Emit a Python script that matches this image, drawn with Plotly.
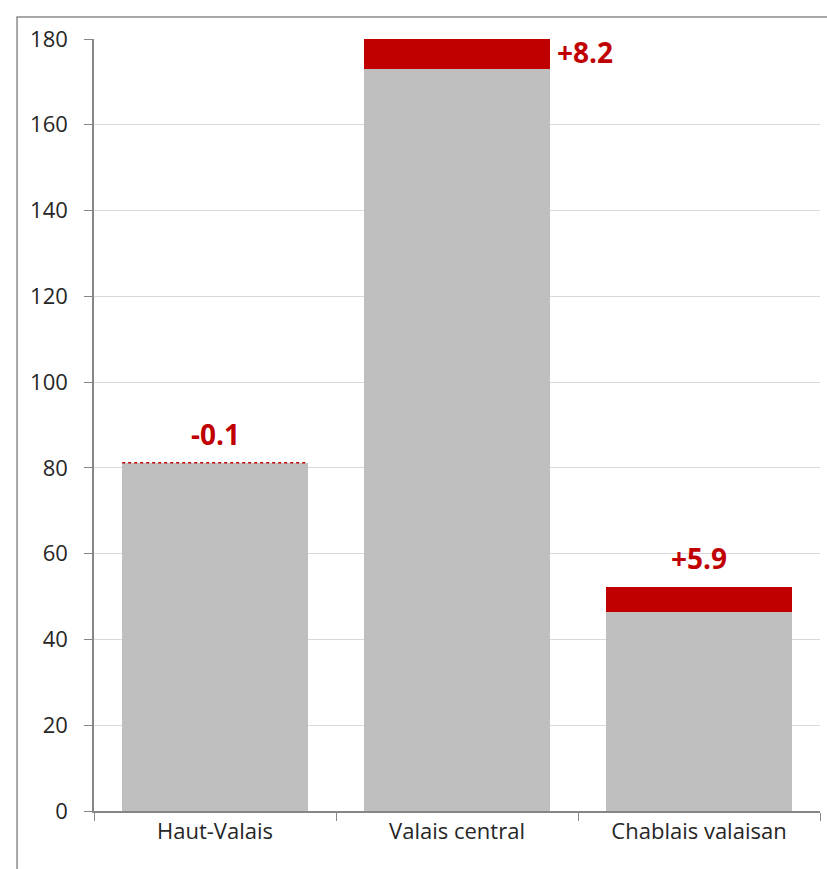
import plotly.graph_objects as go

# Regions and employment figures (thousands)
regions = ["Haut-Valais", "Valais central", "Chablais valaisan"]
previous = [81.2, 173.0, 46.3]
change = [-0.1, 8.2, 5.9]
change_labels = ["-0.1", "+8.2", "+5.9"]
y_ticks = [0, 20, 40, 60, 80, 100, 120, 140, 160, 180]

GRAY = "#BFBFBF"
RED = "#C00000"
FONT = "Open Sans"
BARGAP = 0.233

base = [p + min(c, 0) for p, c in zip(previous, change)]
gain = [max(c, 0) for c in change]
top = [p + max(c, 0) for p, c in zip(previous, change)]

fig = go.Figure()
fig.add_trace(go.Bar(x=regions, y=base, marker=dict(color=GRAY, line=dict(width=0)),
                     hoverinfo="skip"))
fig.add_trace(go.Bar(x=regions, y=gain, marker=dict(color=RED, line=dict(width=0)),
                     hoverinfo="skip"))

half = (1 - BARGAP) / 2
shapes = []
annotations = []
for i, (p, c, lab, t) in enumerate(zip(previous, change, change_labels, top)):
    if c < 0:
        # decrease drawn as a dotted outline at the former level
        shapes.append(dict(type="line", xref="x", yref="y", x0=i - half, x1=i + half,
                           y0=p, y1=p, line=dict(color=RED, width=1.5, dash="dot")))
    if t > y_ticks[-1]:
        annotations.append(dict(x=i + half, y=(p + y_ticks[-1]) / 2 + 0.5, xref="x", yref="y",
                                text=lab, showarrow=False, xanchor="left", yanchor="middle",
                                xshift=5, font=dict(family=FONT, size=28, color=RED,
                                                    weight="bold")))
    else:
        annotations.append(dict(x=i, y=max(p, t), xref="x", yref="y", text=lab,
                                showarrow=False, xanchor="center", yanchor="bottom",
                                yshift=8, font=dict(family=FONT, size=28, color=RED,
                                                    weight="bold")))

# outer chart frame
shapes.append(dict(type="rect", xref="paper", yref="paper", x0=-0.106, x1=1.02,
                   y0=-0.2, y1=1.0285, line=dict(color="#8C8C8C", width=1.5),
                   fillcolor="rgba(0,0,0,0)", layer="below"))

fig.update_layout(
    width=827, height=869,
    margin=dict(l=94, r=7, t=39, b=58),
    paper_bgcolor="white", plot_bgcolor="white",
    barmode="stack", bargap=BARGAP, showlegend=False,
    font=dict(family=FONT, size=22, color="#262626"),
    shapes=shapes, annotations=annotations,
    xaxis=dict(showline=True, linecolor="#868686", linewidth=1.5, ticks="outside",
               tickson="boundaries", ticklen=8, tickcolor="#868686",
               tickfont=dict(size=22), showgrid=False),
    yaxis=dict(range=[0, 180], tickvals=y_ticks, showline=True, linecolor="#868686",
               linewidth=1.5, ticks="outside", ticklen=8, tickcolor="#868686",
               gridcolor="#D9D9D9", gridwidth=1.2, zeroline=False,
               ticklabelstandoff=12, tickfont=dict(size=22)),
)

fig.write_html("out.html")
